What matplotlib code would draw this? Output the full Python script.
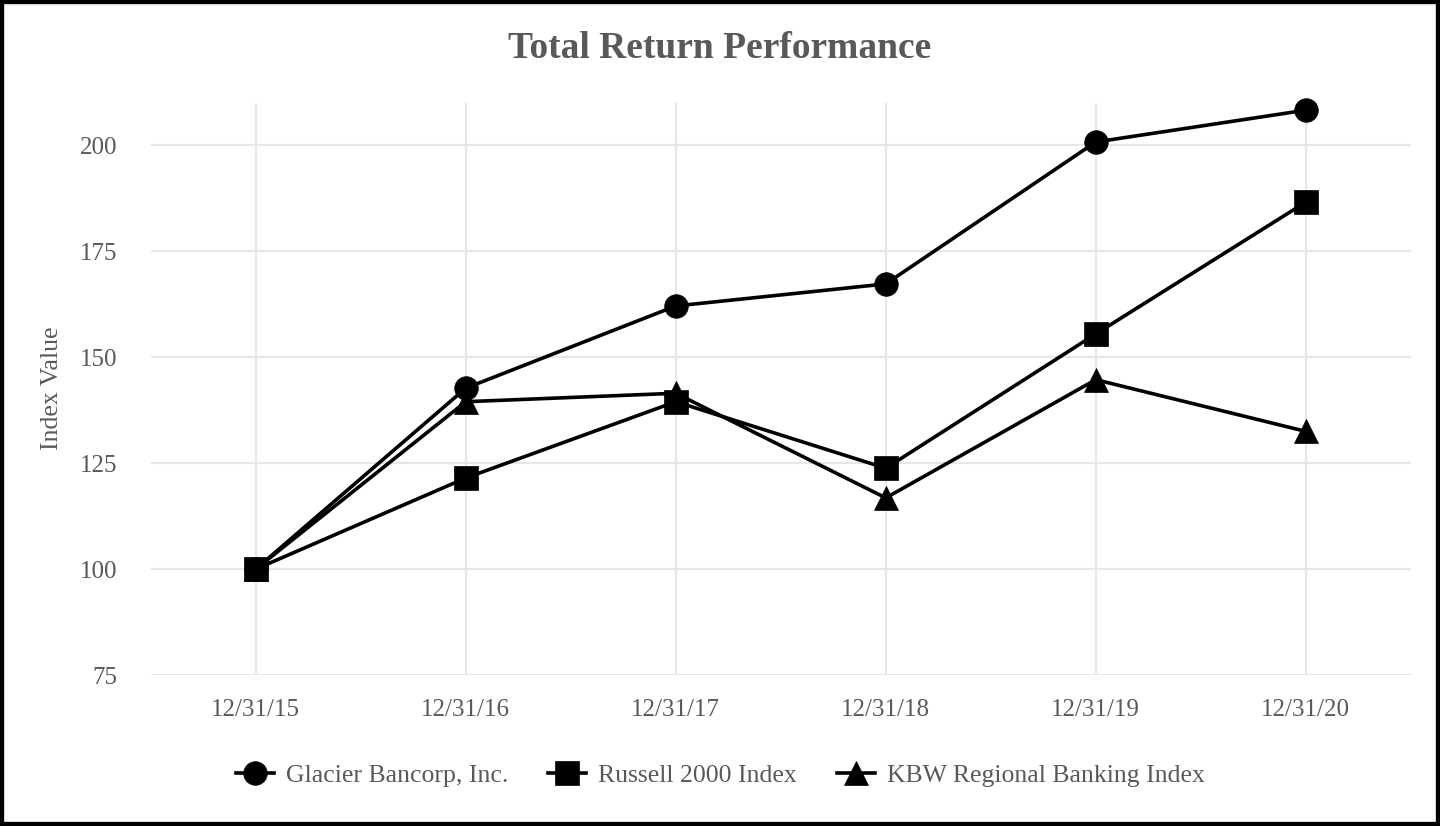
import matplotlib.pyplot as plt
from matplotlib.patches import Rectangle

# Data
dates = ['12/31/15', '12/31/16', '12/31/17', '12/31/18', '12/31/19', '12/31/20']
glacier = [100.0, 142.7, 162.1, 167.3, 200.8, 208.3]
russell = [100.0, 121.5, 139.5, 123.8, 155.5, 186.6]
kbw = [100.0, 139.5, 141.5, 116.8, 144.7, 132.5]
series_names = ['Glacier Bancorp, Inc.', 'Russell 2000 Index', 'KBW Regional Banking Index']
yticks = [75, 100, 125, 150, 175, 200]

text_color = '#595959'
grid_color = '#e6e6e6'

plt.rcParams['font.family'] = ['Liberation Serif', 'DejaVu Serif']

fig = plt.figure(figsize=(14.4, 8.26), dpi=100)
ax = fig.add_axes([0.1047, 0.1828, 0.875, 0.6925])

x = list(range(len(dates)))
style = dict(color='black', lw=2.6, ms=17, mew=0.5, zorder=3, clip_on=False)
ax.plot(x, glacier, marker='o', label=series_names[0], **style)
ax.plot(x, russell, marker='s', label=series_names[1], **style)
ax.plot(x, kbw, marker='^', label=series_names[2], **style)

ax.set_xlim(-0.5, 5.5)
ax.set_ylim(75, 210)
ax.set_xticks(x)
ax.set_xticklabels(dates)
ax.set_yticks(yticks)

for s in ax.spines.values():
    s.set_visible(False)
ax.grid(True, color=grid_color, lw=1.5)
ax.set_axisbelow(True)
ax.tick_params(length=0, labelsize=18, labelcolor=text_color)
ax.tick_params(axis='y', pad=24)
ax.tick_params(axis='x', pad=17)

fig.text(0.5, 0.941, 'Total Return Performance', ha='center', va='center',
         fontsize=27, fontweight='bold', color=text_color)
fig.text(0.0361, 0.530, 'Index Value', rotation=90, ha='center', va='center',
         fontsize=18.5, color=text_color)

fig.legend(loc='center', bbox_to_anchor=(0.5, 0.0617), ncol=3, frameon=False,
           fontsize=18.5, labelcolor=text_color, handlelength=1.5,
           handletextpad=0.45, columnspacing=1.55)

# Black frame around the whole picture
fig.patches.append(Rectangle((0, 0), 1, 1, transform=fig.transFigure, fill=False,
                             edgecolor='black', lw=6, zorder=10))

fig.savefig('out.png', dpi=100)
